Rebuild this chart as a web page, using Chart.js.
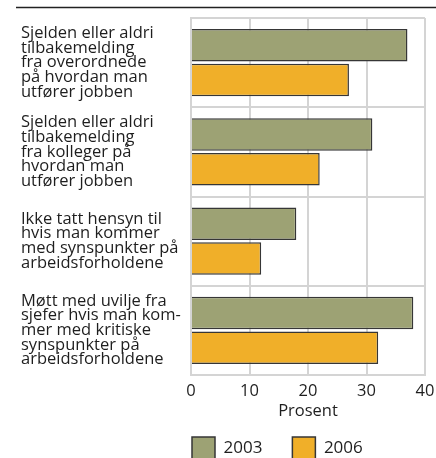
<!DOCTYPE html>
<html>
<head>
<meta charset="utf-8">
<script src="https://cdn.jsdelivr.net/npm/chart.js@4"></script>
<style>
  html, body { margin: 0; padding: 0; background: #fff; }
  #wrap { width: 436px; height: 458px; }
</style>
</head>
<body>
<div id="wrap"><canvas id="grafico" width="436" height="458"></canvas></div>
<script>
var kategorier = [
    ['Sjelden eller aldri', 'tilbakemelding', 'fra overordnede', 'på hvordan man', 'utfører jobben'],
    ['Sjelden eller aldri', 'tilbakemelding', 'fra kolleger på', 'hvordan man', 'utfører jobben'],
    ['Ikke tatt hensyn til', 'hvis man kommer', 'med synspunkter på', 'arbeidsforholdene'],
    ['Møtt med uvilje fra', 'sjefer hvis man kom-', 'mer med kritiske', 'synspunkter på', 'arbeidsforholdene']
];
var verdier2003 = [37, 31, 18, 38];
var verdier2006 = [27, 22, 12, 32];
var aksemin = 0;
var aksemax = 40;
var steg = 10;

var tekstfarge = '#1e1e1e';
var gridfarge = '#d4d4d4';

// linje over figuren + flytt forklaringen under plottet
var pyntPlugin = {
    id: 'pynt',
    beforeDraw: function(chart) {
        var lg = chart.legend;
        var w = lg.right - lg.left;
        lg.left = chart.chartArea.left + 1 - lg.options.labels.padding;
        lg.right = lg.left + w;
    },
    afterDraw: function(chart) {
        var ctx = chart.ctx;
        ctx.save();
        ctx.strokeStyle = '#222';
        ctx.lineWidth = 1.5;
        ctx.beginPath();
        ctx.moveTo(16, 7.5);
        ctx.lineTo(436, 7.5);
        ctx.stroke();
        ctx.restore();
    }
};

var ctx = document.getElementById('grafico').getContext('2d');
var grafico = new Chart(ctx, {
    type: 'bar',
    data: {
        labels: kategorier,
        datasets: [{
            label: '2003',
            data: verdier2003,
            backgroundColor: '#9da274',
            borderColor: '#363636',
            borderWidth: 1.5,
            categoryPercentage: 0.78,
            barPercentage: 0.93
        }, {
            label: '2006',
            data: verdier2006,
            backgroundColor: '#f0af29',
            borderColor: '#363636',
            borderWidth: 1.5,
            categoryPercentage: 0.78,
            barPercentage: 0.93
        }]
    },
    options: {
        indexAxis: 'y',
        responsive: false,
        animation: false,
        layout: {
            padding: { top: 18, right: 11, bottom: -11, left: 21 }
        },
        scales: {
            x: {
                min: aksemin,
                max: aksemax,
                ticks: {
                    stepSize: steg,
                    padding: 6,
                    color: tekstfarge,
                    font: { family: 'Open Sans', size: 16.5 }
                },
                grid: { color: gridfarge, lineWidth: 2, drawTicks: false },
                border: { color: gridfarge, width: 2 },
                title: {
                    display: true,
                    text: 'Prosent',
                    color: tekstfarge,
                    padding: { top: 0, bottom: -14.6 },
                    font: { family: 'Open Sans', size: 16.5 }
                },
                afterFit: function(axis) {
                    axis.height = 32;
                    axis.paddingLeft = 0;
                    axis.paddingRight = 0;
                }
            },
            y: {
                ticks: {
                    crossAlign: 'far',
                    color: tekstfarge,
                    font: { family: 'Open Sans', size: 16.5, lineHeight: 0.89 }
                },
                grid: { color: gridfarge, lineWidth: 2, drawTicks: false, offset: true },
                border: { color: gridfarge, width: 2 },
                afterFit: function(axis) {
                    axis.width = 170;
                    axis.paddingTop = 0;
                    axis.paddingBottom = 0;
                }
            }
        },
        plugins: {
            legend: {
                position: 'bottom',
                align: 'start',
                labels: {
                    boxWidth: 23,
                    boxHeight: 22,
                    padding: 30,
                    color: tekstfarge,
                    font: { family: 'Open Sans', size: 17 }
                }
            },
            tooltip: { enabled: false }
        }
    },
    plugins: [pyntPlugin]
});
</script>
</body>
</html>
